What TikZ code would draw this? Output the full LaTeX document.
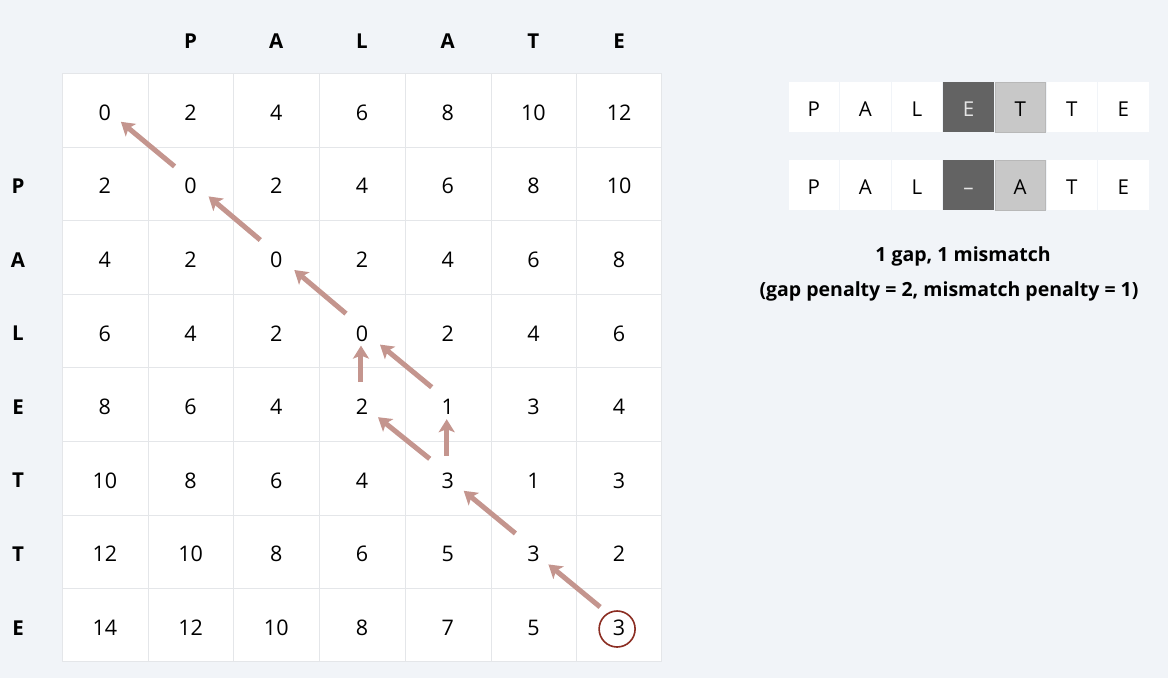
\documentclass[tikz,border=0pt]{standalone}
\usepackage{fontspec}
\setmainfont{Open Sans}
\usetikzlibrary{arrows.meta}
\definecolor{bgc}{HTML}{F1F4F8}
\definecolor{gridc}{HTML}{E4E6E9}
\definecolor{arrc}{HTML}{C4958E}
\definecolor{ringc}{HTML}{8B2D22}
\definecolor{darkc}{HTML}{636363}
\definecolor{lightc}{HTML}{C8C8C8}

\begin{document}
\begin{tikzpicture}[x=1pt,y=-1pt,
                cell/.style={minimum width=85.7pt,minimum height=73.6pt,
                    inner sep=0pt,text height=21pt,text depth=0pt,
                    font=\fontsize{21.5}{21.5}\selectfont},
                hdr/.style={font=\fontsize{20.5}{20.5}\selectfont\bfseries,
                    text height=20pt,text depth=0pt},
                box/.style={fill=white,minimum width=50.5pt,minimum height=50pt,
                    inner sep=0pt,text height=19pt,text depth=0pt,
                    font=\fontsize{20.5}{20.5}\selectfont},
                dbox/.style={box,fill=darkc,text=white!90!black},
                lbox/.style={box,fill=lightc,draw=lightc!92!black,line width=0.6pt},
                arr/.style={draw=arrc,line width=5pt,
                    -{Stealth[length=13pt,width=16pt,inset=3pt]}},
                note/.style={font=\fontsize{19.5}{19.5}\selectfont\bfseries}]
    \fill[bgc] (0,0) rectangle (1168,678);
    \useasboundingbox (0,0) rectangle (1168,678);
    % score table
    \fill[white] (62,73) rectangle (662,662);
    \foreach \i in {1,...,6}
        \draw[gridc,line width=1.5pt] ({62+round(\i*85.71)+0.5},73) -- ({62+round(\i*85.71)+0.5},662);
    \foreach \i in {1,...,7}
        \draw[gridc,line width=1.5pt] (62,{73+round(\i*73.6)+0.5}) -- (662,{73+round(\i*73.6)+0.5});
    \draw[gridc,line width=1.5pt] (62.5,73.5) rectangle (661.5,661.5);
    \foreach \row [count=\r] in {{0,2,4,6,8,10,12},{2,0,2,4,6,8,10},
            {4,2,0,2,4,6,8},{6,4,2,0,2,4,6},{8,6,4,2,1,3,4},
            {10,8,6,4,3,1,3},{12,10,8,6,5,3,2},{14,12,10,8,7,5,3}}
        \foreach \v [count=\c] in \row
            \node[cell] (n\r\c) at ({62+(\c-0.5)*85.71},{73+(\r-0.5)*73.6}) {\v};
    % headers
    \foreach \l [count=\c from 2] in {P,A,L,A,T,E}
        \node[hdr] (top\c) at ({62+(\c-0.5)*85.71},38) {\l};
    \foreach \l [count=\r from 2] in {P,A,L,E,T,T,E}
        \node[hdr] (lft\r) at (18,{73+(\r-0.5)*73.6}) {\l};
    % traceback
    \draw[arr] ([shift={(-19,-18)}]n87.center) -- ([shift={(15,13)}]n76.center);
    \draw[arr] ([shift={(-18,-18)}]n76.center) -- ([shift={(16,13)}]n65.center);
    \draw[arr] ([shift={(-18,-19)}]n65.center) -- ([shift={(16,13)}]n54.center);
    \draw[arr] ([shift={(-1,-22)}]n65.center) -- ([shift={(-1,15)}]n55.center);
    \draw[arr] ([shift={(-16,-17)}]n55.center) -- ([shift={(18,14)}]n44.center);
    \draw[arr] ([shift={(-1,-22)}]n54.center) -- ([shift={(-1,15)}]n44.center);
    \draw[arr] ([shift={(-16,-17)}]n44.center) -- ([shift={(18,13)}]n33.center);
    \draw[arr] ([shift={(-16,-17)}]n33.center) -- ([shift={(18,13)}]n22.center);
    \draw[arr] ([shift={(-16,-17)}]n22.center) -- ([shift={(16,12)}]n11.center);
    \node[circle,draw=ringc,line width=1.6pt,minimum size=36pt] (ring)
        at ([shift={(-2,4)}]n87.center) {};
    % alignment
    \foreach \l/\s [count=\c] in {P/box,A/box,L/box,E/dbox,T/lbox,T/box,E/box}
        \node[\s] (a\c) at ({788+(\c-0.5)*51.6},107) {\l};
    \foreach \l/\s [count=\c] in {P/box,A/box,L/box,--/dbox,A/lbox,T/box,E/box}
        \node[\s] (b\c) at ({788+(\c-0.5)*51.6},185) {\l};
    \node[note] (gaps) at (963,256) {1 gap, 1 mismatch};
    \node[note] (pen) at (949,291) {(gap penalty = 2, mismatch penalty = 1)};
\end{tikzpicture}
\end{document}
